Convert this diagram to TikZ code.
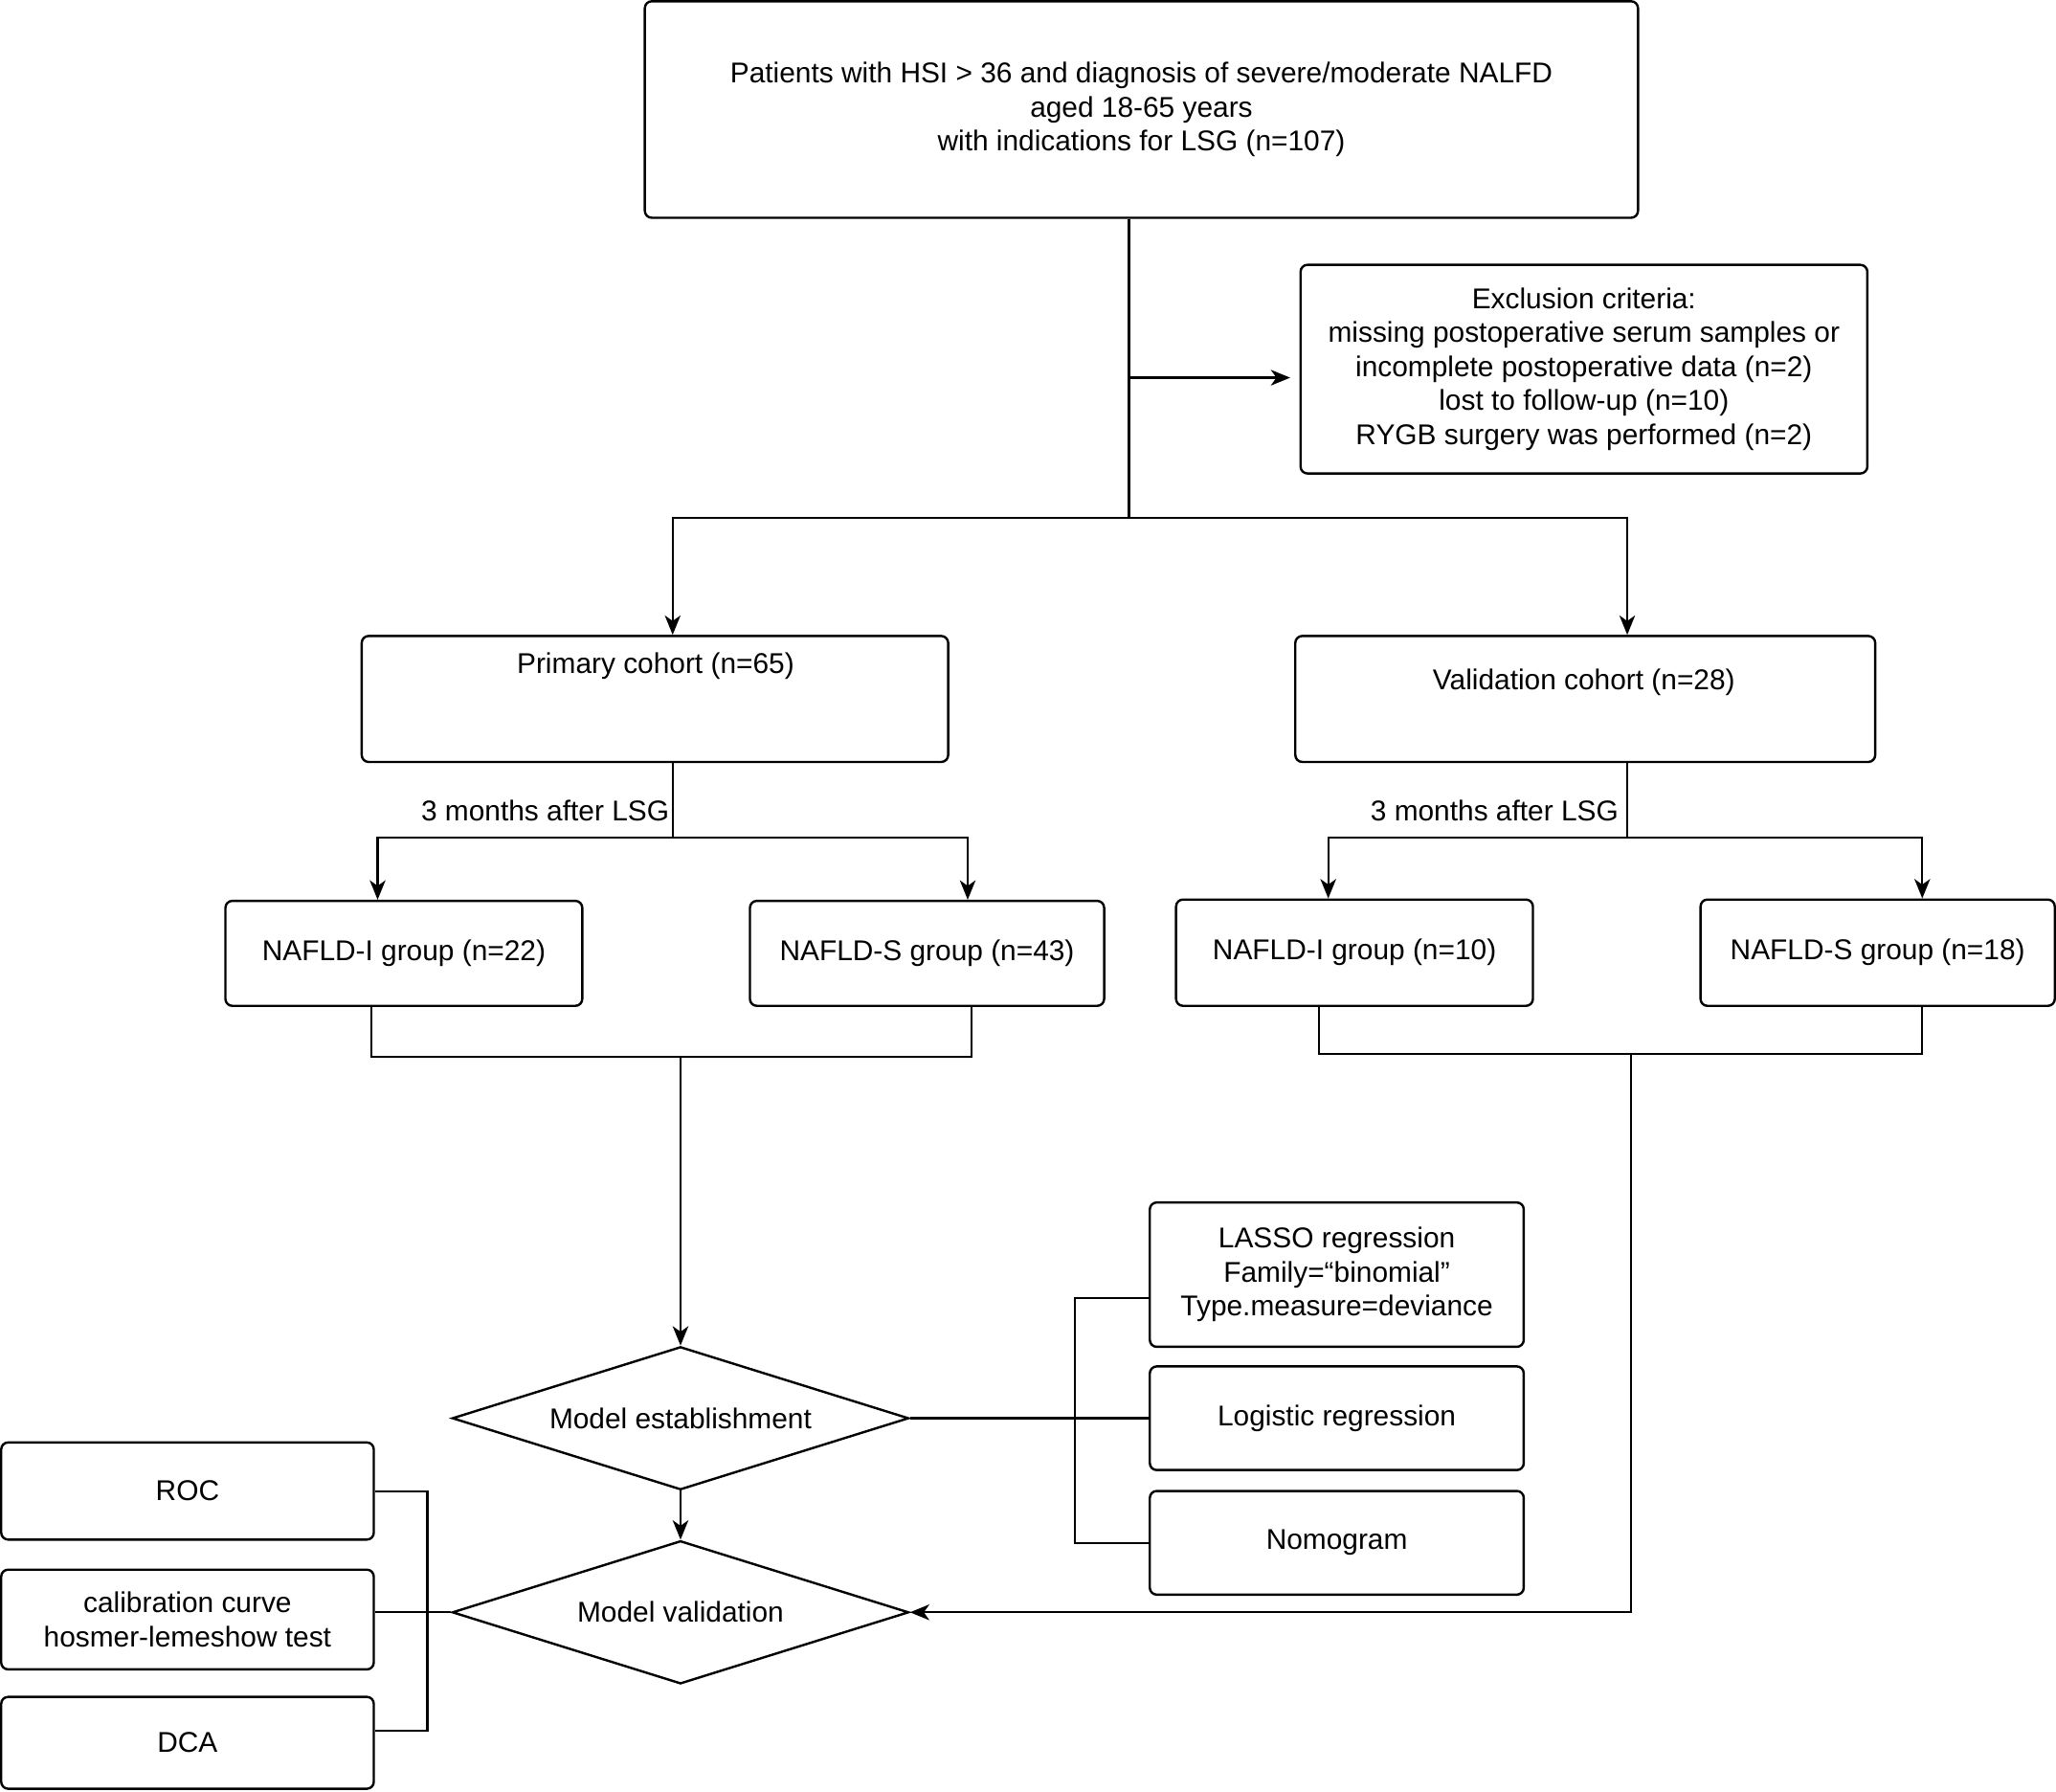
\documentclass[tikz,border=0pt]{standalone}
\usepackage{fontspec}
\setmainfont{Liberation Sans}
\usetikzlibrary{shapes.geometric,arrows.meta}
\begin{document}
\begin{tikzpicture}[x=0.01cm,y=-0.01cm,
  every node/.style={font=\fontsize{6.2pt}{7.35pt}\selectfont},
  box/.style={draw,line width=0.5pt,rounded corners=1.5pt,inner sep=0pt,align=center},
  dia/.style={draw,line width=0.5pt,diamond,inner sep=0pt,aspect=3.19,align=center},
  txt/.style={inner sep=0pt,align=center},
  ln/.style={line width=0.45pt},
  ar/.style={line width=0.45pt,-{Stealth[length=4.2pt,width=3.4pt,inset=1.2pt]}}]
\useasboundingbox (0,0) rectangle (1568,1366);
% nodes
\node[box,minimum width=7.57cm,minimum height=1.65cm] (top) at (870.5,83.5)
  {Patients with HSI > 36 and diagnosis of severe/moderate NALFD\\aged 18-65 years\\with indications for LSG (n=107)};
\node[box,minimum width=4.32cm,minimum height=1.59cm] (ex) at (1208,281.5)
  {Exclusion criteria:\\missing postoperative serum samples or\\incomplete postoperative data (n=2)\\lost to follow-up (n=10)\\RYGB surgery was performed (n=2)};
\node[box,minimum width=4.47cm,minimum height=0.96cm] (pc) at (499.5,533) {};
\node[txt] (pct) at (500,508) {Primary cohort (n=65)};
\node[box,minimum width=4.42cm,minimum height=0.96cm] (vc) at (1209,533) {};
\node[txt] (vct) at (1208,520) {Validation cohort (n=28)};
\node[box,minimum width=2.72cm,minimum height=0.80cm] (pi) at (308,727) {NAFLD-I group (n=22)};
\node[box,minimum width=2.70cm,minimum height=0.80cm] (ps) at (707,727) {NAFLD-S group (n=43)};
\node[box,minimum width=2.72cm,minimum height=0.81cm] (vi) at (1033,726.5) {NAFLD-I group (n=10)};
\node[box,minimum width=2.70cm,minimum height=0.81cm] (vs) at (1432,726.5) {NAFLD-S group (n=18)};
\node[txt,anchor=east] (lab1) at (511,618) {3 months after LSG};
\node[txt,anchor=east] (lab2) at (1235,618) {3 months after LSG};
\node[dia,minimum width=3.48cm,minimum height=1.09cm] (me) at (519,1081.5) {Model establishment};
\node[dia,minimum width=3.48cm,minimum height=1.09cm] (mv) at (519,1229.5) {Model validation};
\node[box,minimum width=2.85cm,minimum height=1.10cm] (lasso) at (1019.5,972)
  {LASSO regression\\Family=“binomial”\\Type.measure=deviance};
\node[box,minimum width=2.85cm,minimum height=0.79cm] (logi) at (1019.5,1081.5) {Logistic regression};
\node[box,minimum width=2.85cm,minimum height=0.79cm] (nomo) at (1019.5,1176.5) {Nomogram};
\node[box,minimum width=2.84cm,minimum height=0.74cm] (roc) at (143,1137) {ROC};
\node[box,minimum width=2.84cm,minimum height=0.76cm] (cal) at (143,1235) {calibration curve\\hosmer-lemeshow test};
\node[box,minimum width=2.84cm,minimum height=0.70cm] (dca) at (143,1329) {DCA};
% connectors
\draw[ln] ([xshift=-0.095cm]top.south) -- ++(0,228) coordinate (s1);
\coordinate (exin) at ([yshift=-0.065cm]ex.west);
\draw[ar,shorten >=0.07cm] (s1 |- exin) -- (exin);
\draw[ar] (s1) -| ([xshift=0.135cm]pc.north);
\draw[ar] (s1) -| ([xshift=0.32cm]vc.north);
\draw[ln] ([xshift=0.135cm]pc.south) -- ++(0,57) coordinate (s2);
\draw[ar] (s2) -| ([xshift=-0.2cm]pi.north);
\draw[ar] (s2) -| ([xshift=0.31cm]ps.north);
\draw[ln] ([xshift=0.32cm]vc.south) -- ++(0,57) coordinate (s3);
\draw[ar] (s3) -| ([xshift=-0.2cm]vi.north);
\draw[ar] (s3) -| ([xshift=0.34cm]vs.north);
\draw[ln] ([xshift=-0.25cm]pi.south) -- ++(0,38) coordinate (b1) -| ([xshift=0.34cm]ps.south);
\draw[ar] (me.north |- b1) -- (me.north);
\draw[ln] ([xshift=-0.27cm]vi.south) -- ++(0,36) coordinate (b2) -| ([xshift=0.34cm]vs.south);
\path (b2) ++(238,0) coordinate (b3);
\draw[ar] (b3) |- (mv.east);
\draw[ar] (me.south) -- (mv.north);
\draw[ln] (me.east) -- (logi.west);
\draw[ln] ([yshift=-0.18cm]lasso.west) -- ++(-56,0) |- (nomo.west);
\draw[ln] (roc.east) -- ++(40,0) |- ([yshift=0.09cm]dca.east);
\draw[ln] (cal.east |- mv.west) -- (mv.west);
\end{tikzpicture}
\end{document}
